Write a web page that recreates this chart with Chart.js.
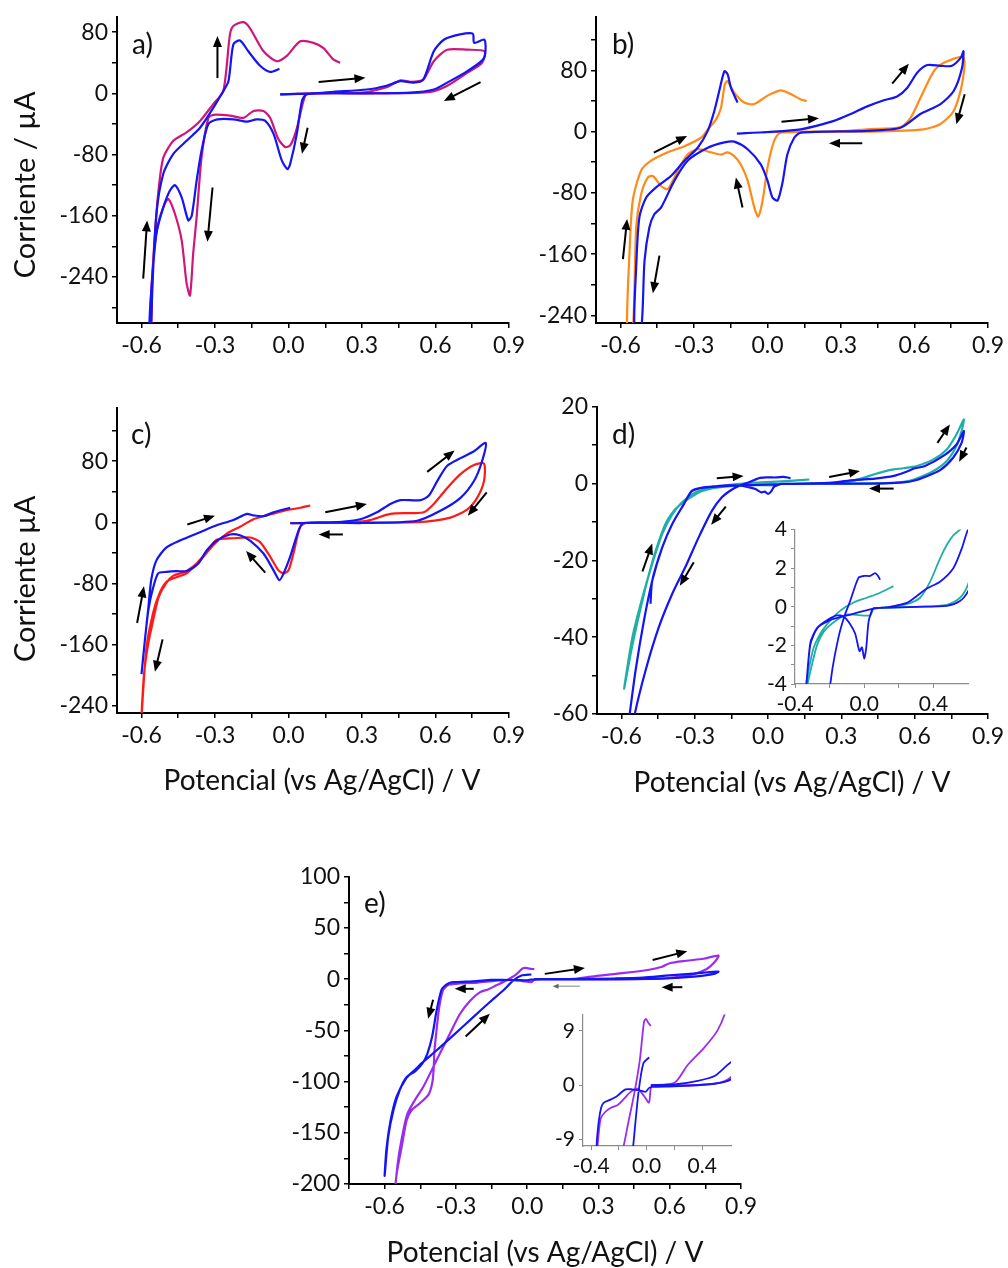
<!DOCTYPE html>
<html>
<head>
<meta charset="utf-8">
<script src="https://cdn.jsdelivr.net/npm/chart.js@4.4.0/dist/chart.umd.min.js"></script>
<style>
  html, body { margin: 0; padding: 0; background: #fff; }
  #page { position: relative; width: 1008px; height: 1268px; overflow: hidden; }
  canvas { position: absolute; }
</style>
</head>
<body>
<div id="page">
  <canvas id="cA"></canvas>
  <canvas id="cB"></canvas>
  <canvas id="cC"></canvas>
  <canvas id="cD"></canvas>
  <canvas id="cDin"></canvas>
  <canvas id="cE"></canvas>
  <canvas id="cEin"></canvas>
</div>
<script>
// ---- tick values ----
const xMajor = [-0.6, -0.3, 0, 0.3, 0.6, 0.9];
const xMinor = [-0.45, -0.15, 0.15, 0.45, 0.75];
const xMinorE = [-0.75, -0.45, -0.15, 0.15, 0.45, 0.75];
const yMajorA = [-240, -160, -80, 0, 80];
const yMinorA = [-280, -200, -120, -40, 40];
const yMinorBC = [-200, -120, -40, 40, 120];
const yMajorD = [-60, -40, -20, 0, 20];
const yMinorD = [-50, -30, -10, 10];
const yMajorE = [-200, -150, -100, -50, 0, 50, 100];
const yMinorE = [-175, -125, -75, -25, 25, 75];
const xMajorIn = [-0.4, 0, 0.4];
const xMinorIn = [-0.2, 0.2];
const yMajorInD = [-4, -2, 0, 2, 4];
const yMinorInD = [-3, -1, 1, 3];
const yMajorInE = [-9, 0, 9];

// ---- a) potential (V) / current (uA) ----
const aBlueV = [-0.034, 0.10, 0.184, 0.32, 0.40, 0.457, 0.51, 0.55, 0.593, 0.634, 0.70, 0.752, 0.758, 0.80, 0.798, 0.73, 0.648, 0.593, 0.50, 0.30, 0.075, 0.055, 0.034, 0.007, -0.004, -0.027, -0.061, -0.095, -0.13, -0.17, -0.225, -0.29, -0.327, -0.355, -0.375, -0.395, -0.409, -0.436, -0.463, -0.484, -0.511, -0.539, -0.559, -0.568, -0.562, -0.555, -0.539, -0.511, -0.47, -0.416, -0.361, -0.307, -0.266, -0.245, -0.225, -0.198, -0.164, -0.116, -0.075, -0.037];
const aBlueI = [-1.3, 0, 2, 5, 10, 16, 14, 18, 55, 70, 77, 78, 66, 70, 46, 29, 14, 5, 1, 0, -1, -10, -53, -92, -99, -88, -53, -36, -34, -37, -34, -34, -40, -75, -114, -160, -166, -136, -120, -127, -149, -183, -253, -305, -305, -248, -157, -105, -79, -62, -45, -19, 3, 16, 64, 69, 55, 36, 28, 32];
const aPinkV = [-0.034, 0.10, 0.30, 0.40, 0.457, 0.50, 0.55, 0.593, 0.648, 0.73, 0.80, 0.79, 0.73, 0.648, 0.58, 0.40, 0.075, 0.061, 0.031, 0.007, -0.014, -0.041, -0.075, -0.102, -0.143, -0.184, -0.239, -0.307, -0.327, -0.355, -0.375, -0.389, -0.402, -0.416, -0.436, -0.464, -0.49, -0.505, -0.532, -0.55, -0.566, -0.56, -0.555, -0.545, -0.532, -0.511, -0.47, -0.416, -0.361, -0.307, -0.266, -0.239, -0.225, -0.184, -0.157, -0.102, -0.048, -0.007, 0.048, 0.102, 0.143, 0.184, 0.211];
const aPinkI = [-1.3, 0, 1, 8, 17, 15, 18, 42, 57, 57, 55, 40, 27, 10, 2, 0, -1, -10, -49, -68, -70, -60, -32, -23, -23, -32, -29, -28, -32, -84, -162, -209, -264, -248, -192, -157, -138, -144, -170, -209, -305, -305, -235, -183, -131, -84, -62, -51, -36, -14, 3, 77, 88, 93, 85, 55, 42, 49, 68, 66, 59, 44, 40];

// ---- b) ----
const bBlueV = [-0.125, 0, 0.136, 0.271, 0.34, 0.407, 0.475, 0.529, 0.57, 0.611, 0.652, 0.706, 0.753, 0.79, 0.80, 0.794, 0.76, 0.706, 0.624, 0.543, 0.407, 0.136, 0.109, 0.081, 0.061, 0.041, 0.02, 0, -0.027, -0.081, -0.136, -0.176, -0.244, -0.326, -0.38, -0.434, -0.462, -0.482, -0.502, -0.516, -0.543, -0.536, -0.523, -0.495, -0.448, -0.394, -0.339, -0.285, -0.244, -0.217, -0.197, -0.176, -0.163, -0.149, -0.122];
const bBlueI = [-2.6, -0.5, 3, 14, 23, 33, 41, 46, 57, 77, 87, 86, 86, 97, 105, 83, 53, 36, 23, 5, 1, -1.3, -8, -30, -67, -90, -86, -64, -43, -23, -13, -14, -21, -38, -64, -99, -108, -125, -169, -260, -260, -177, -112, -86, -71, -58, -38, -21, 1, 27, 53, 79, 75, 57, 38];
const bOrangeV = [-0.02, 0.1, 0.3, 0.407, 0.543, 0.584, 0.624, 0.679, 0.72, 0.80, 0.794, 0.76, 0.706, 0.638, 0.407, 0.054, 0.027, 0, -0.02, -0.038, -0.054, -0.081, -0.109, -0.136, -0.163, -0.19, -0.231, -0.285, -0.326, -0.366, -0.407, -0.434, -0.468, -0.489, -0.516, -0.536, -0.55, -0.573, -0.563, -0.55, -0.516, -0.475, -0.407, -0.339, -0.271, -0.238, -0.21, -0.19, -0.174, -0.163, -0.136, -0.095, -0.054, 0, 0.054, 0.095, 0.136, 0.16];
const bOrangeI = [-1, 0, 0.5, 3, 6, 18, 44, 79, 90, 97, 62, 27, 10, 3, 0, -1.3, -12, -47, -90, -111, -99, -64, -43, -32, -27, -30, -27, -23, -30, -51, -75, -71, -58, -60, -82, -125, -260, -260, -156, -90, -51, -38, -27, -19, -8, 5, 16, 31, 62, 66, 51, 38, 36, 47, 54, 49, 42, 40];

// ---- c) ----
const cBlueV = [0.007, 0.184, 0.293, 0.361, 0.416, 0.457, 0.539, 0.573, 0.607, 0.648, 0.702, 0.757, 0.805, 0.79, 0.757, 0.702, 0.62, 0.525, 0.3, 0.061, 0.041, 0.007, -0.02, -0.037, -0.061, -0.102, -0.157, -0.198, -0.239, -0.293, -0.334, -0.368, -0.416, -0.457, -0.498, -0.532, -0.556, -0.572, -0.586, -0.6, -0.586, -0.572, -0.56, -0.539, -0.498, -0.443, -0.361, -0.293, -0.225, -0.17, -0.143, -0.102, -0.061, 0.007];
const cBlueI = [-1.3, 0, 4, 13, 24, 29, 29, 35, 54, 74, 84, 93, 104, 80, 54, 32, 15, 2, -1, -1, -11, -45, -67, -76, -63, -41, -24, -17, -16, -24, -37, -54, -64, -64, -65, -67, -90, -115, -154, -199, -154, -112, -75, -50, -33, -24, -13, -4, 3, 11, 9, 8, 13, 19];
const cRedV = [0.007, 0.184, 0.32, 0.416, 0.498, 0.552, 0.593, 0.648, 0.702, 0.757, 0.798, 0.798, 0.77, 0.73, 0.661, 0.525, 0.075, 0.048, 0.02, 0, -0.02, -0.041, -0.075, -0.116, -0.157, -0.225, -0.293, -0.334, -0.375, -0.416, -0.457, -0.498, -0.525, -0.552, -0.58, -0.6, -0.59, -0.573, -0.55, -0.53, -0.5, -0.47, -0.416, -0.361, -0.307, -0.252, -0.198, -0.143, -0.089, -0.02, 0.048, 0.089];
const cRedI = [-1.3, 0, 2, 11, 12, 13, 24, 45, 63, 75, 77, 54, 32, 17, 6, 0, -1, -6, -41, -63, -67, -63, -45, -26, -20, -21, -23, -39, -54, -67, -72, -78, -92, -118, -165, -255, -200, -160, -125, -98, -80, -70, -64, -50, -30, -15, -6, 4, 9, 15, 19, 22];

// ---- d) (same data in the inset) ----
const dBlueV = [-0.481, -0.474, -0.433, -0.392, -0.345, -0.312, -0.27, -0.2, -0.1, 0.054, 0.15, 0.246, 0.304, 0.362, 0.438, 0.515, 0.563, 0.6, 0.64, 0.717, 0.771, 0.801, 0.792, 0.758, 0.704, 0.636, 0.6, 0.554, 0.477, 0.3, 0.1, 0.054, 0.044, 0.025, 0.012, 0, -0.013, -0.027, -0.052, -0.081, -0.119, -0.158, -0.215, -0.273, -0.312, -0.345, -0.392, -0.433, -0.474, -0.508, -0.542, -0.568, -0.575, -0.55, -0.548, -0.501, -0.447, -0.392, -0.339, -0.284, -0.23, -0.19, -0.149, -0.115, -0.081, -0.033, 0, 0.035, 0.063, 0.08, 0.092];
const dBlueI = [-31.3, -25.3, -16.6, -10.5, -5.4, -2.0, -1.1, -0.7, -0.45, -0.1, 0, 0.2, 0.56, 0.95, 1.3, 2, 3, 4, 4.5, 7.2, 10.2, 13.7, 10.6, 6.8, 3.5, 1.6, 0.8, 0.3, 0.05, 0, -0.05, -0.07, -0.2, -0.8, -2.1, -2.7, -2.1, -2.3, -1.4, -0.9, -0.5, -0.45, -0.7, -1.1, -1.9, -5.4, -10.5, -16.6, -25.3, -35.7, -48.6, -60.8, -64, -64, -60.8, -48.6, -37.4, -28.7, -21.8, -14, -7.1, -3.6, -1.6, -0.5, 0.3, 1.5, 1.6, 1.6, 1.75, 1.6, 1.4];
const dTealV = [0.06, 0.15, 0.246, 0.323, 0.381, 0.438, 0.477, 0.515, 0.554, 0.609, 0.677, 0.731, 0.771, 0.801, 0.792, 0.771, 0.731, 0.677, 0.6, 0.554, 0.477, 0.3, 0.1, 0.054, 0.035, -0.1, -0.177, -0.235, -0.273, -0.31, -0.345, -0.379, -0.42, -0.46, -0.487, -0.52, -0.555, -0.589, -0.555, -0.514, -0.474, -0.433, -0.392, -0.352, -0.298, -0.254, -0.196, -0.138, -0.062, 0.015, 0.092, 0.169];
const dTealI = [-0.1, 0, 0.14, 0.47, 1.3, 2.5, 3.2, 3.7, 4.0, 4.6, 6.3, 8.9, 12.8, 16.7, 13.7, 9.8, 5.9, 3.3, 1.15, 0.47, 0.1, 0, -0.05, -0.1, -0.45, -0.4, -0.8, -1.3, -2.0, -3.3, -4.8, -6.6, -10.5, -17.5, -23.5, -32, -42, -53.4, -40, -29.6, -20.9, -13.1, -8, -4.9, -2.3, -1.4, -0.7, -0.2, 0.22, 0.47, 0.73, 1.07];

// ---- e) (same data in the inset) ----
const eBlueV = [0.03, 0.2, 0.368, 0.488, 0.584, 0.7, 0.805, 0.79, 0.7, 0.584, 0.44, 0.2, 0.04, 0.016, -0.007, -0.043, -0.104, -0.152, -0.212, -0.26, -0.308, -0.327, -0.344, -0.36, -0.381, -0.4, -0.42, -0.44, -0.472, -0.507, -0.536, -0.563, -0.585, -0.6, -0.592, -0.575, -0.55, -0.51, -0.47, -0.444, -0.381, -0.311, -0.227, -0.157, -0.101, -0.059, -0.024, 0.018];
const eBlueI = [0, 0.1, 0.7, 1.5, 3.4, 5.5, 7.5, 5.5, 2.5, 0.7, 0.1, -0.2, -0.3, -0.5, -1.1, -0.9, -0.7, -0.7, -1.8, -2.4, -2.9, -3.7, -5.9, -10, -30.4, -56, -72.6, -82, -90, -95.5, -108, -128, -154, -192, -165, -138, -115, -97, -88, -82, -69.4, -54.8, -37, -22.3, -11, -1.3, 3.6, 4.6];
const ePurpleV = [0.03, 0.2, 0.294, 0.41, 0.508, 0.568, 0.6, 0.67, 0.742, 0.805, 0.79, 0.756, 0.7, 0.6, 0.5, 0.3, 0.05, 0.03, 0.017, -0.019, -0.067, -0.12, -0.16, -0.208, -0.26, -0.3, -0.33, -0.345, -0.355, -0.37, -0.38, -0.39, -0.394, -0.4, -0.416, -0.451, -0.486, -0.507, -0.528, -0.549, -0.556, -0.545, -0.53, -0.505, -0.47, -0.437, -0.381, -0.325, -0.283, -0.24, -0.198, -0.165, -0.13, -0.09, -0.05, -0.019, -0.005, 0.01, 0.03];
const ePurpleI = [0, 0.4, 3.3, 6.1, 9, 12.2, 15.6, 18, 20, 23, 17, 10, 5, 1.2, 0.3, 0, 0, -0.5, -2.9, -1.8, -0.6, -1.2, -2.2, -3.3, -3.8, -4.5, -5.5, -8, -11, -27, -46.6, -69, -89, -101.8, -113, -121, -127.7, -137.5, -163.4, -189.4, -205, -180, -158, -132, -117, -105, -79, -53, -34, -21, -12.6, -10, -6, -1.5, 4, 10.5, 11, 10.4, 9.8];

// ---- scan-direction arrows: [V from, I from, V to, I to] ----
const aArrows = [[-0.29, 20, -0.29, 75], [0.123, 14.7, 0.314, 20.4], [0.784, 14.7, 0.634, -10], [0.078, -45, 0.055, -79], [-0.31, -123, -0.331, -194], [-0.593, -242, -0.577, -166]];
const bArrows = [[-0.464, -27.4, -0.328, -5.7], [0.057, 13, 0.21, 17.4], [0.509, 62.6, 0.577, 88.7], [0.805, 48.7, 0.771, 9.6], [0.387, -15.2, 0.251, -15.2], [-0.102, -99, -0.129, -60], [-0.59, -166.5, -0.573, -114], [-0.441, -162, -0.468, -211]];
const cArrows = [[-0.413, -3, -0.3, 8.6], [0.15, 13, 0.32, 23.8], [0.566, 66, 0.678, 94], [0.809, 39, 0.732, 8.6], [0.222, -16, 0.123, -16], [-0.095, -66, -0.173, -37.6], [-0.618, -132, -0.59, -84], [-0.514, -153.5, -0.545, -196]];
const dArrows = [[-0.21, 1.4, -0.1, 2], [0.25, 1.7, 0.376, 3.3], [0.693, 10.6, 0.744, 15.4], [0.812, 9.4, 0.782, 5.7], [0.514, -1.3, 0.413, -1.3], [-0.173, -6, -0.233, -10.7], [-0.304, -20.5, -0.361, -26.6], [-0.514, -22.9, -0.474, -15.6]];
const eArrows = [[0.074, 5.2, 0.243, 11], [0.528, 18.8, 0.674, 27.3], [0.653, -7.8, 0.566, -7.8], [-0.225, -9.4, -0.305, -9.4], [-0.396, -20, -0.417, -38.6], [-0.259, -56, -0.157, -33.8]];
const eArrowsThin = [[0.222, -6.8, 0.107, -6.8]];

// ---- styling ----
const FONT = 'Lato, "Open Sans", sans-serif';
const BLUE = '#1414f5', PINK = '#cf1679', ORANGE = '#ff8a17', RED = '#ff1a1a', TEAL = '#1fafa6', PURPLE = '#9a2cf0';
Chart.defaults.font.family = FONT;
Chart.defaults.color = '#111';

const pts = (v, i) => v.map((x, k) => ({ x, y: i[k] }));

const notesPlugin = {
  id: 'notes',
  afterDraw(chart, args, opts) {
    const { ctx, chartArea: a } = chart;
    (opts.items || []).forEach(t => {
      ctx.save();
      ctx.font = `${t.size}px ${FONT}`;
      ctx.fillStyle = '#111';
      ctx.translate(a.left + t.dx, a.top + t.dy);
      if (t.rot) ctx.rotate(t.rot);
      ctx.textAlign = t.align || 'center';
      ctx.textBaseline = 'middle';
      ctx.fillText(t.text, 0, 0);
      ctx.restore();
    });
  }
};

function drawArrow(ctx, x, y, a, lw, hl, hw, color) {
  const x1 = x.getPixelForValue(a[0]), y1 = y.getPixelForValue(a[1]);
  const x2 = x.getPixelForValue(a[2]), y2 = y.getPixelForValue(a[3]);
  const ang = Math.atan2(y2 - y1, x2 - x1), c = Math.cos(ang), s = Math.sin(ang);
  ctx.save();
  ctx.strokeStyle = ctx.fillStyle = color;
  ctx.lineWidth = lw;
  ctx.beginPath();
  ctx.moveTo(x1, y1);
  ctx.lineTo(x2 - hl * 0.8 * c, y2 - hl * 0.8 * s);
  ctx.stroke();
  ctx.beginPath();
  ctx.moveTo(x2, y2);
  ctx.lineTo(x2 - hl * c + hw * s, y2 - hl * s - hw * c);
  ctx.lineTo(x2 - hl * c - hw * s, y2 - hl * s + hw * c);
  ctx.closePath();
  ctx.fill();
  ctx.restore();
}

const arrowPlugin = {
  id: 'arrows',
  afterDatasetsDraw(chart, args, opts) {
    const { ctx, scales: { x, y } } = chart;
    (opts.list || []).forEach(a => drawArrow(ctx, x, y, a, 2, 11, 4.5, '#000'));
    (opts.thin || []).forEach(a => drawArrow(ctx, x, y, a, 0.8, 6, 2.5, '#666'));
  }
};

function axis(dir, s, size, inset) {
  const all = s.major.concat(s.minor || []).sort((p, q) => p - q);
  const line = inset ? '#8c8c8c' : '#000';
  return {
    type: 'linear', min: s.min, max: s.max,
    position: dir === 'x' ? 'bottom' : 'left',
    afterBuildTicks: sc => { sc.ticks = all.map(v => ({ value: v })); },
    afterFit: sc => { if (dir === 'x') sc.height = size; else sc.width = size; },
    ticks: {
      autoSkip: false, maxRotation: 0, minRotation: 0,
      padding: dir === 'x' ? 4 : 4,
      font: { size: inset ? 21 : 23 }, color: '#111',
      callback: v => s.major.some(m => Math.abs(m - v) < 1e-9) ? v.toFixed(s.dec) : ''
    },
    grid: { drawOnChartArea: false, drawTicks: true, tickLength: inset ? 4 : 5, color: line, lineWidth: inset ? 1 : 1.5 },
    border: { display: true, color: line, width: inset ? 1.2 : 2 }
  };
}

function panel(id, area, cfg) {
  const padL = 6, padT = cfg.padT || 16, padR = cfg.padR || 22, padB = cfg.padB || 10;
  const left = area[0] - cfg.yW - padL, top = area[1] - padT;
  const w = Math.round(area[2] + padR - left), h = Math.round(area[3] + cfg.xH + padB - top);
  const cv = document.getElementById(id);
  cv.style.left = left + 'px';
  cv.style.top = top + 'px';
  cv.width = w; cv.height = h;
  return new Chart(cv, {
    type: 'scatter',
    data: {
      datasets: cfg.series.map(s => ({
        data: pts(s[0], s[1]), borderColor: s[2], borderWidth: cfg.inset ? 1.8 : 2.2,
        showLine: true, pointRadius: 0, tension: 0.25, fill: false
      }))
    },
    options: {
      responsive: false, animation: false, devicePixelRatio: 1,
      layout: { padding: { left: padL, top: padT, right: padR, bottom: padB } },
      plugins: {
        legend: { display: false }, tooltip: { enabled: false },
        notes: { items: cfg.notes || [] },
        arrows: { list: cfg.arrows || [], thin: cfg.thin || [] }
      },
      scales: {
        x: axis('x', cfg.x, cfg.xH, cfg.inset),
        y: axis('y', cfg.y, cfg.yW, cfg.inset)
      }
    },
    plugins: [notesPlugin, arrowPlugin]
  });
}

const ROT = -Math.PI / 2;
const xTitle = 'Potencial (vs Ag/AgCl) / V';
const xMain = { min: -0.7, max: 0.9, major: xMajor, minor: xMinor, dec: 1 };

panel('cA', [117, 15, 509, 323], {
  yW: 111, xH: 40,
  x: xMain,
  y: { min: -300, max: 100, major: yMajorA, minor: yMinorA, dec: 0 },
  series: [[aBlueV, aBlueI, BLUE], [aPinkV, aPinkI, PINK]],
  arrows: aArrows,
  notes: [
    { text: 'a)', dx: 15, dy: 28, size: 28, align: 'left' },
    { text: 'Corriente / µA', dx: -91, dy: 168, size: 29, rot: ROT }
  ]
});

panel('cB', [596, 15, 988, 323], {
  yW: 111, xH: 40,
  x: xMain,
  y: { min: -250, max: 150, major: yMajorA, minor: yMinorBC, dec: 0 },
  series: [[bBlueV, bBlueI, BLUE], [bOrangeV, bOrangeI, ORANGE]],
  arrows: bArrows,
  notes: [{ text: 'b)', dx: 16, dy: 28, size: 28, align: 'left' }]
});

panel('cC', [117, 406, 509, 713], {
  yW: 111, xH: 40, padB: 50,
  x: xMain,
  y: { min: -250, max: 150, major: yMajorA, minor: yMinorBC, dec: 0 },
  series: [[cBlueV, cBlueI, BLUE], [cRedV, cRedI, RED]],
  arrows: cArrows,
  notes: [
    { text: 'c)', dx: 14, dy: 27, size: 28, align: 'left' },
    { text: 'Corriente µA', dx: -91, dy: 171, size: 29, rot: ROT },
    { text: xTitle, dx: 205, dy: 373, size: 28 }
  ]
});

panel('cD', [597, 405, 988, 714], {
  yW: 90, xH: 40, padB: 50,
  x: xMain,
  y: { min: -60, max: 20, major: yMajorD, minor: yMinorD, dec: 0 },
  series: [[dBlueV, dBlueI, BLUE], [dTealV, dTealI, TEAL]],
  arrows: dArrows,
  notes: [
    { text: 'd)', dx: 15, dy: 28, size: 28, align: 'left' },
    { text: xTitle, dx: 195, dy: 376, size: 28 }
  ]
});

panel('cDin', [795, 527, 968, 684], {
  inset: true, yW: 34, xH: 32, padT: 14, padR: 16, padB: 4,
  x: { min: -0.4, max: 0.6, major: xMajorIn, minor: xMinorIn, dec: 1 },
  y: { min: -4, max: 4, major: yMajorInD, minor: yMinorInD, dec: 0 },
  series: [[dBlueV, dBlueI, BLUE], [dTealV, dTealI, TEAL]]
});

panel('cE', [349, 875, 741, 1184], {
  yW: 80, xH: 40, padB: 50,
  x: { min: -0.75, max: 0.9, major: xMajor, minor: xMinorE, dec: 1 },
  y: { min: -200, max: 100, major: yMajorE, minor: yMinorE, dec: 0 },
  series: [[eBlueV, eBlueI, BLUE], [ePurpleV, ePurpleI, PURPLE]],
  arrows: eArrows, thin: eArrowsThin,
  notes: [
    { text: 'e)', dx: 15, dy: 27, size: 28, align: 'left' },
    { text: xTitle, dx: 196, dy: 376, size: 28 }
  ]
});

panel('cEin', [582.5, 1012, 730, 1145.5], {
  inset: true, yW: 30, xH: 32, padT: 14, padR: 16, padB: 4,
  x: { min: -0.458, max: 0.607, major: xMajorIn, minor: xMinorIn, dec: 1 },
  y: { min: -10.1, max: 11.7, major: yMajorInE, minor: [], dec: 0 },
  series: [[eBlueV, eBlueI, BLUE], [ePurpleV, ePurpleI, PURPLE]]
});
</script>
</body>
</html>
